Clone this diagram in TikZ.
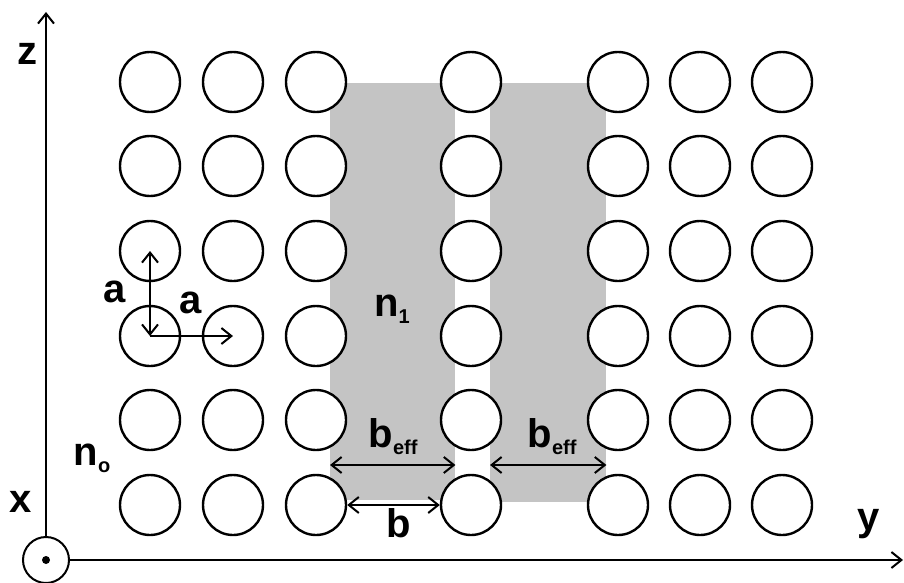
\documentclass[tikz,border=0pt]{standalone}
\usepackage{fontspec}
\setmainfont{Liberation Sans}
\usetikzlibrary{arrows.meta, calc}
\definecolor{SlabGray}{RGB}{196,196,196}
\newcommand{\subtag}[1]{\raisebox{-7pt}{\fontsize{20}{20}\selectfont #1}}

\begin{document}
\begin{tikzpicture}[
  x=1pt, y=-1pt,
  tag/.style={font=\fontsize{40}{40}\selectfont\bfseries, inner sep=0pt, anchor=base},
  hole/.style={circle, draw, line width=2.4pt, fill=white, minimum size=60pt, inner sep=0pt},
  slab/.style={fill=SlabGray, inner sep=0pt, anchor=north west},
  axis/.style={line width=2pt, -{Straight Barb[length=10pt, width=16pt]}},
  onearrow/.style={line width=2pt, -{Straight Barb[length=10pt, width=16pt]}},
  twoarrow/.style={line width=2pt, {Straight Barb[length=10pt, width=16pt]}-{Straight Barb[length=10pt, width=16pt]}}
]
\useasboundingbox (0,0) rectangle (904,583);
% shaded slabs
\node[slab, minimum width=125pt, minimum height=417pt] (sL) at (330,83) {};
\node[slab, minimum width=116pt, minimum height=419pt] (sR) at (490,83) {};
% holes
\foreach \r/\y in {1/82,2/166,3/251,4/336,5/420,6/505}
  \foreach \c/\x in {1/150,2/233,3/316,4/471,5/618,6/700,7/782}
    \node[hole] (h\r\c) at (\x,\y) {};
% axes
\node[circle, draw, line width=2pt, minimum size=46pt, inner sep=0pt] (o) at (46,560) {};
\fill (o.center) circle (4pt);
\coordinate (ztip) at (46,12);
\coordinate (ytip) at (903,560);
\draw[axis] (o.north) -- (ztip);
\draw[axis] (o.east) -- (ytip);
\node[tag] (zlab) at (27,65) {z};
\node[tag] (xlab) at (21,512) {x};
\node[tag] (ylab) at (869,530) {y};
% lattice constant
\draw[twoarrow] (h31.center) -- (h41.center);
\draw[onearrow] (h41.center) -- (h42.center);
\node[tag] (a1) at (115,302) {a};
\node[tag] (a2) at (191,313) {a};
% widths
\coordinate (effrow) at (0,465);
\draw[twoarrow] (sL.west |- effrow) -- (sL.east |- effrow);
\draw[twoarrow] (sR.west |- effrow) -- (sR.east |- effrow);
\draw[twoarrow] (h63.east) -- (h64.west);
\node[tag] (beff1) at (393,447) {b\subtag{eff}};
\node[tag] (beff2) at (552,447) {b\subtag{eff}};
\node[tag] (blab) at (399,537) {b};
% indices
\node[tag] (n1) at (392,316) {n\subtag{1}};
\node[tag] (n0) at (92,465) {n\subtag{o}};
\end{tikzpicture}
\end{document}
